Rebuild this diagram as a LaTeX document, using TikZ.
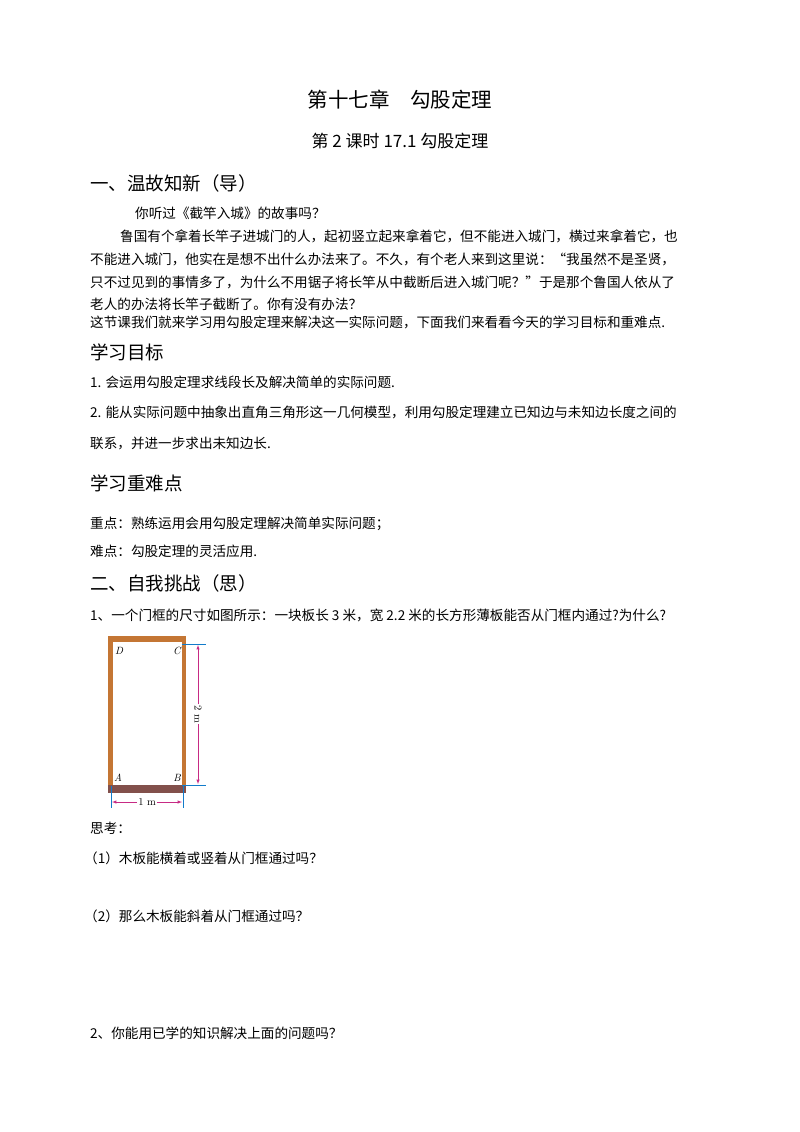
\documentclass[tikz,border=0pt]{standalone}
\usepackage{fontspec}
\newfontfamily\cjk{Noto Sans CJK SC}
\definecolor{frameC}{RGB}{196,118,52}
\definecolor{frameB}{RGB}{130,80,75}
\begin{document}
\begin{tikzpicture}[x=1pt,y=-1pt,
  body/.style={anchor=west,inner sep=0,font=\cjk\fontsize{13.6}{14}\selectfont},
  head/.style={anchor=west,inner sep=0,font=\cjk\fontsize{18.5}{20}\selectfont},
  dim/.style={magenta!80!black,line width=0.5pt},
  ext/.style={cyan!60!blue,line width=0.5pt},
  lab/.style={inner sep=0,font=\itshape\fontsize{10.5}{11}\selectfont}]
\useasboundingbox (0,0) rectangle (800,1132);
\fill[white] (0,0) rectangle (800,1132);
\node[inner sep=0,font=\cjk\fontsize{20.5}{22}\selectfont] (t1) at (400,100) {第十七章\quad 勾股定理};
\node[inner sep=0,font=\cjk\fontsize{17}{18}\selectfont] (t2) at (400,141) {第 2 课时 17.1 勾股定理};
\node[head] (h1) at (90,183) {一、温故知新（导）};
\node[body] (p1) at (135,213) {你听过《截竿入城》的故事吗？};
\node[body] (p2) at (120,236) {鲁国有个拿着长竿子进城门的人，起初竖立起来拿着它，但不能进入城门，横过来拿着它，也};
\node[body] (p3) at (90,259) {不能进入城门，他实在是想不出什么办法来了。不久，有个老人来到这里说：“我虽然不是圣贤，};
\node[body] (p4) at (90,282) {只不过见到的事情多了，为什么不用锯子将长竿从中截断后进入城门呢？”于是那个鲁国人依从了};
\node[body] (p5) at (90,304) {老人的办法将长竿子截断了。你有没有办法？};
\node[body] (p6) at (90,322) {这节课我们就来学习用勾股定理来解决这一实际问题，下面我们来看看今天的学习目标和重难点.};
\node[head] (h2) at (90,352) {学习目标};
\node[body] (g1) at (90,382) {1. 会运用勾股定理求线段长及解决简单的实际问题.};
\node[body] (g2) at (90,412) {2. 能从实际问题中抽象出直角三角形这一几何模型，利用勾股定理建立已知边与未知边长度之间的};
\node[body] (g3) at (90,443) {联系，并进一步求出未知边长.};
\node[head] (h3) at (90,483) {学习重难点};
\node[body] (k1) at (90,524) {重点：熟练运用会用勾股定理解决简单实际问题；};
\node[body] (k2) at (90,551) {难点：勾股定理的灵活应用.};
\node[head] (h4) at (90,583) {二、自我挑战（思）};
\node[body] (q1) at (90,615) {1、一个门框的尺寸如图所示：一块板长 3 米，宽 2.2 米的长方形薄板能否从门框内通过?为什么?};
% door frame
\fill[frameC] (108,636) rectangle (186,793);
\fill[frameB] (108,785) rectangle (186,793);
\fill[white] (113,642) rectangle (182,785);
\node[lab] (D) at (119,651) {D};
\node[lab] (C) at (177,651) {C};
\node[lab] (A) at (118,778) {A};
\node[lab] (B) at (177,778) {B};
\coordinate (c1) at (182,644); \coordinate (c2) at (206,644);
\coordinate (b1) at (182,785); \coordinate (b2) at (206,785);
\draw[ext] (c1) -- (c2);
\draw[ext] (b1) -- (b2);
\node[inner sep=1pt,font=\fontsize{10.5}{11}\selectfont,rotate=-90,fill=white] (m2) at (198,714) {2 m};
\draw[dim,-latex] (m2) -- (198,645);
\draw[dim,-latex] (m2) -- (198,784);
\coordinate (l1) at (111,786); \coordinate (l2) at (111,808);
\coordinate (r1) at (183,786); \coordinate (r2) at (183,808);
\draw[ext] (l1) -- (l2);
\draw[ext] (r1) -- (r2);
\node[inner sep=1pt,font=\fontsize{10.5}{11}\selectfont,fill=white] (m1) at (147,802) {1 m};
\draw[dim,-latex] (m1) -- (112,802);
\draw[dim,-latex] (m1) -- (182,802);
\node[body] (s0) at (90,828) {思考：};
\node[body] (s1) at (84,858) {（1）木板能横着或竖着从门框通过吗？};
\node[body] (s2) at (84,916) {（2）那么木板能斜着从门框通过吗？};
\node[body] (q2) at (90,1033) {2、你能用已学的知识解决上面的问题吗？};
\end{tikzpicture}
\end{document}
